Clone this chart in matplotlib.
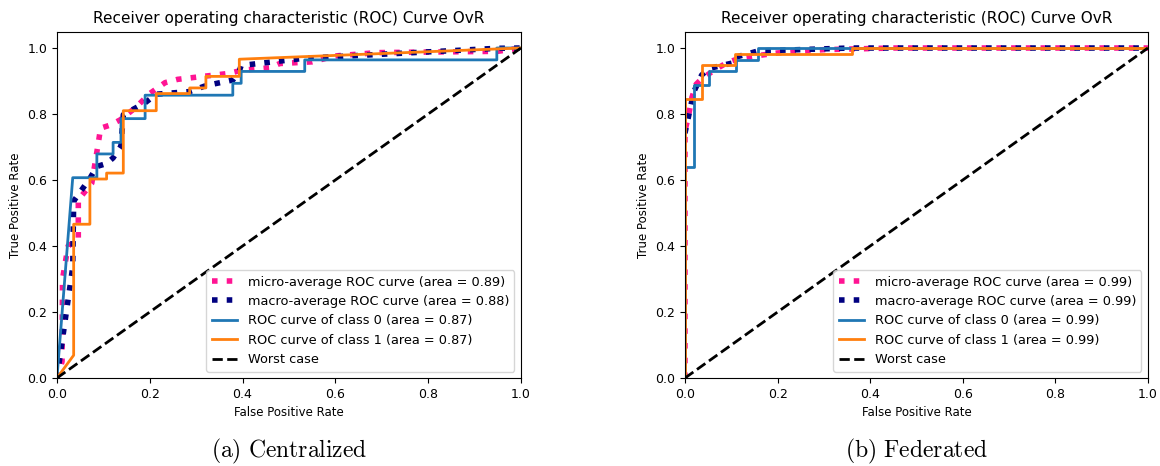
import matplotlib
matplotlib.use('Agg')
import matplotlib.pyplot as plt

plt.rcParams['mathtext.fontset'] = 'cm'

# ---- (a) Centralized ----
cen_micro_fpr = [0, 0.005, 0.011, 0.012, 0.024, 0.046, 0.046, 0.075, 0.09, 0.094, 0.116, 0.136,
                 0.17, 0.2, 0.233, 0.26, 0.37, 0.40, 0.46, 0.48, 0.55, 0.60, 0.69, 0.95, 1.0]
cen_micro_tpr = [0, 0.02, 0.05, 0.30, 0.40, 0.42, 0.54, 0.59, 0.72, 0.757, 0.767, 0.782,
                 0.82, 0.862, 0.895, 0.905, 0.923, 0.933, 0.94, 0.953, 0.958, 0.976, 0.986, 0.99, 1.0]

cen_macro_fpr = [0, 0.034, 0.036, 0.071, 0.086, 0.107, 0.121, 0.138, 0.143, 0.19, 0.214,
                 0.286, 0.321, 0.379, 0.393, 0.397, 0.534, 0.948, 1.0]
cen_macro_tpr = [0, 0.336, 0.536, 0.605, 0.641, 0.65, 0.667, 0.703, 0.798, 0.834, 0.86,
                 0.868, 0.886, 0.903, 0.93, 0.947, 0.969, 0.999, 1.0]

cen_c0_fpr = [0, 0.034, 0.086, 0.086, 0.121, 0.121, 0.138, 0.138, 0.19, 0.19, 0.379, 0.379,
              0.397, 0.397, 0.534, 0.534, 0.948, 0.948, 1.0]
cen_c0_tpr = [0, 0.607, 0.607, 0.679, 0.679, 0.714, 0.714, 0.786, 0.786, 0.857, 0.857, 0.893,
              0.893, 0.929, 0.929, 0.964, 0.964, 1.0, 1.0]

cen_c1_fpr = [0, 0.036, 0.036, 0.071, 0.071, 0.107, 0.107, 0.143, 0.143, 0.214, 0.214, 0.286,
              0.286, 0.321, 0.321, 0.393, 0.393, 1.0]
cen_c1_tpr = [0, 0.069, 0.466, 0.466, 0.603, 0.603, 0.621, 0.621, 0.810, 0.810, 0.862, 0.862,
              0.879, 0.879, 0.914, 0.914, 0.966, 1.0]

cen_auc = [0.89, 0.88, 0.87, 0.87]

# ---- (b) Federated ----
fed_micro_fpr = [0, 0, 0.007, 0.015, 0.024, 0.035, 0.05, 0.06, 0.09, 0.12, 0.2, 0.3, 0.45, 1.0]
fed_micro_tpr = [0, 0.75, 0.79, 0.85, 0.89, 0.905, 0.92, 0.93, 0.955, 0.97, 0.985, 0.995, 1.0, 1.0]

fed_macro_fpr = [0, 0.019, 0.036, 0.052, 0.107, 0.111, 0.158, 0.357, 1.0]
fed_macro_tpr = [0.742, 0.867, 0.918, 0.938, 0.956, 0.973, 0.991, 1.0, 1.0]

fed_c0_fpr = [0, 0, 0.019, 0.019, 0.052, 0.052, 0.111, 0.111, 0.158, 0.158, 1.0]
fed_c0_tpr = [0, 0.64, 0.64, 0.889, 0.889, 0.929, 0.929, 0.964, 0.964, 1.0, 1.0]

fed_c1_fpr = [0, 0, 0.036, 0.036, 0.109, 0.109, 0.36, 0.36, 1.0]
fed_c1_tpr = [0, 0.845, 0.845, 0.948, 0.948, 0.982, 0.982, 1.0, 1.0]

fed_auc = [0.99, 0.99, 0.99, 0.99]

captions = ['(a) Centralized', '(b) Federated']

fig = plt.figure(figsize=(11.6, 4.66), dpi=100)
ax1 = fig.add_axes([0.0491, 0.1888, 0.4, 0.7436])
ax2 = fig.add_axes([0.5905, 0.1888, 0.3991, 0.7436])

panels = [
    (ax1, cen_micro_fpr, cen_micro_tpr, cen_macro_fpr, cen_macro_tpr,
     cen_c0_fpr, cen_c0_tpr, cen_c1_fpr, cen_c1_tpr, cen_auc),
    (ax2, fed_micro_fpr, fed_micro_tpr, fed_macro_fpr, fed_macro_tpr,
     fed_c0_fpr, fed_c0_tpr, fed_c1_fpr, fed_c1_tpr, fed_auc),
]

for i, (ax, mif, mit, maf, mat, f0, t0, f1, t1, auc) in enumerate(panels):
    ax.plot(mif, mit, color='deeppink', linestyle=':', linewidth=4,
            label='micro-average ROC curve (area = {0:0.2f})'.format(auc[0]))
    ax.plot(maf, mat, color='navy', linestyle=':', linewidth=4,
            label='macro-average ROC curve (area = {0:0.2f})'.format(auc[1]))
    ax.plot(f0, t0, color='#1f77b4', linewidth=2,
            label='ROC curve of class 0 (area = {0:0.2f})'.format(auc[2]))
    ax.plot(f1, t1, color='#ff7f0e', linewidth=2,
            label='ROC curve of class 1 (area = {0:0.2f})'.format(auc[3]))
    ax.plot([0, 1], [0, 1], 'k--', linewidth=2, label='Worst case')
    ax.set_xlim(0.0, 1.0)
    ax.set_ylim(0.0, 1.05)
    ax.set_xlabel('False Positive Rate', fontsize=8.5)
    ax.set_ylabel('True Positive Rate', fontsize=8.5)
    ax.set_title('Receiver operating characteristic (ROC) Curve OvR', fontsize=11)
    ax.tick_params(labelsize=9)
    ax.legend(loc='lower right', fontsize=9.3)
    # sub-figure caption in Computer Modern
    pos = ax.get_position()
    fig.text(pos.x0 + pos.width / 2, 0.018,
             r'$\mathrm{' + captions[i].replace(' ', r'\ ') + '}$',
             ha='center', va='baseline', fontsize=17)

plt.savefig('out.png', dpi=100)
